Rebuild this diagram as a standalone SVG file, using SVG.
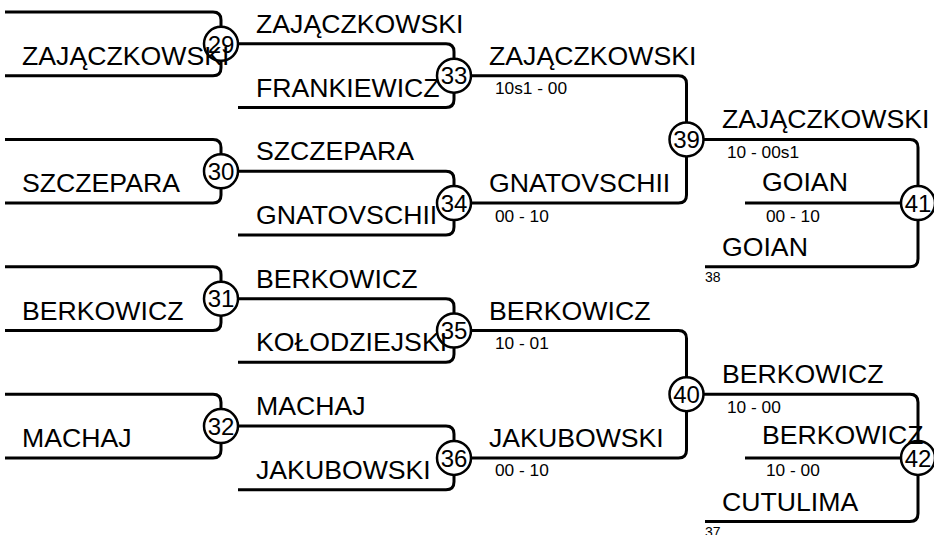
<svg xmlns="http://www.w3.org/2000/svg" width="934" height="535" viewBox="0 0 934 535">
<style>
.ln{fill:none;stroke:#000;stroke-width:3;stroke-linecap:butt}
.nd{fill:#fff;stroke:#000;stroke-width:2.5}
.num{font-family:"Liberation Sans",Arial,sans-serif;font-size:24px;text-anchor:middle;fill:#000}
.nm{font-family:"Liberation Sans",Arial,sans-serif;font-size:26.67px;fill:#000}
.sc{font-family:"Liberation Sans",Arial,sans-serif;font-size:17.3px;fill:#000}
.sm{font-family:"Liberation Sans",Arial,sans-serif;font-size:14px;fill:#000}
</style>
<rect width="934" height="535" fill="#fff"/>
<g id="connectors">
<path class="ln" d="M5,12 H213 Q221,12 221,20 V26.85"/>
<path class="ln" d="M5,75.7 H213 Q221,75.7 221,67.7 V60.85"/>
<path class="ln" d="M5,139.4 H213 Q221,139.4 221,147.4 V154.25"/>
<path class="ln" d="M5,203.1 H213 Q221,203.1 221,195.1 V188.25"/>
<path class="ln" d="M5,266.8 H213 Q221,266.8 221,274.8 V281.65"/>
<path class="ln" d="M5,330.5 H213 Q221,330.5 221,322.5 V315.65"/>
<path class="ln" d="M5,394.2 H213 Q221,394.2 221,402.2 V409.05"/>
<path class="ln" d="M5,457.9 H213 Q221,457.9 221,449.9 V443.05"/>
<path class="ln" d="M238,43.85 H446 Q454,43.85 454,51.85 V58.7"/>
<path class="ln" d="M238,107.55 H446 Q454,107.55 454,99.55 V92.7"/>
<path class="ln" d="M238,171.25 H446 Q454,171.25 454,179.25 V186.1"/>
<path class="ln" d="M238,234.95 H446 Q454,234.95 454,226.95 V220.1"/>
<path class="ln" d="M238,298.65 H446 Q454,298.65 454,306.65 V313.5"/>
<path class="ln" d="M238,362.35 H446 Q454,362.35 454,354.35 V347.5"/>
<path class="ln" d="M238,426.05 H446 Q454,426.05 454,434.05 V440.9"/>
<path class="ln" d="M238,489.75 H446 Q454,489.75 454,481.75 V474.9"/>
<path class="ln" d="M471,75.7 H678.5 Q686.5,75.7 686.5,83.7 V122.4"/>
<path class="ln" d="M471,203.1 H678.5 Q686.5,203.1 686.5,195.1 V156.4"/>
<path class="ln" d="M471,330.5 H678.5 Q686.5,330.5 686.5,338.5 V377.2"/>
<path class="ln" d="M471,457.9 H678.5 Q686.5,457.9 686.5,449.9 V411.2"/>
<path class="ln" d="M703.5,139.4 H910 Q918,139.4 918,147.4 V186.1"/>
<path class="ln" d="M705,266.8 H910 Q918,266.8 918,258.8 V220.1"/>
<path class="ln" d="M745,203.1 H901"/>
<path class="ln" d="M703.5,394.2 H910 Q918,394.2 918,402.2 V440.9"/>
<path class="ln" d="M705,521.6 H910 Q918,521.6 918,513.6 V474.9"/>
<path class="ln" d="M745,457.9 H901"/>
</g>
<g id="m29"><circle class="nd" cx="221" cy="43.85" r="17"/><text class="num" x="221" y="52.5">29</text></g>
<g id="m30"><circle class="nd" cx="221" cy="171.25" r="17"/><text class="num" x="221" y="179.9">30</text></g>
<g id="m31"><circle class="nd" cx="221" cy="298.65" r="17"/><text class="num" x="221" y="307.3">31</text></g>
<g id="m32"><circle class="nd" cx="221" cy="426.05" r="17"/><text class="num" x="221" y="434.7">32</text></g>
<g id="m33"><circle class="nd" cx="454" cy="75.7" r="17"/><text class="num" x="454" y="84.3">33</text></g>
<g id="m34"><circle class="nd" cx="454" cy="203.1" r="17"/><text class="num" x="454" y="211.7">34</text></g>
<g id="m35"><circle class="nd" cx="454" cy="330.5" r="17"/><text class="num" x="454" y="339.1">35</text></g>
<g id="m36"><circle class="nd" cx="454" cy="457.9" r="17"/><text class="num" x="454" y="466.5">36</text></g>
<g id="m39"><circle class="nd" cx="686.5" cy="139.4" r="17"/><text class="num" x="686.5" y="148">39</text></g>
<g id="m40"><circle class="nd" cx="686.5" cy="394.2" r="17"/><text class="num" x="686.5" y="402.8">40</text></g>
<g id="m41"><circle class="nd" cx="918" cy="203.1" r="17"/><text class="num" x="918" y="211.7">41</text></g>
<g id="m42"><circle class="nd" cx="918" cy="457.9" r="17"/><text class="num" x="918" y="466.5">42</text></g>
<g id="labels">
<text class="nm" x="22" y="64.7">ZAJĄCZKOWSKI</text>
<text class="nm" x="22" y="192.1">SZCZEPARA</text>
<text class="nm" x="22" y="319.5">BERKOWICZ</text>
<text class="nm" x="22" y="446.9">MACHAJ</text>
<text class="nm" x="256" y="32.85">ZAJĄCZKOWSKI</text>
<text class="nm" x="256" y="96.55">FRANKIEWICZ</text>
<text class="nm" x="256" y="160.25">SZCZEPARA</text>
<text class="nm" x="256" y="223.95">GNATOVSCHII</text>
<text class="nm" x="256" y="287.65">BERKOWICZ</text>
<text class="nm" x="256" y="351.35">KOŁODZIEJSKI</text>
<text class="nm" x="256" y="415.05">MACHAJ</text>
<text class="nm" x="256" y="478.75">JAKUBOWSKI</text>
<text class="nm" x="489" y="64.7">ZAJĄCZKOWSKI</text>
<text class="nm" x="489" y="192.1">GNATOVSCHII</text>
<text class="nm" x="489" y="319.5">BERKOWICZ</text>
<text class="nm" x="489" y="446.9">JAKUBOWSKI</text>
<text class="sc" x="495" y="94.2">10s1 - 00</text>
<text class="sc" x="495" y="221.6">00 - 10</text>
<text class="sc" x="495" y="349">10 - 01</text>
<text class="sc" x="495" y="476.4">00 - 10</text>
<text class="nm" x="722" y="128.4">ZAJĄCZKOWSKI</text>
<text class="sc" x="727" y="157.9">10 - 00s1</text>
<text class="nm" x="762" y="190.5">GOIAN</text>
<text class="sc" x="766" y="221.6">00 - 10</text>
<text class="nm" x="722" y="255.8">GOIAN</text>
<text class="sm" x="705" y="281.8">38</text>
<text class="nm" x="722" y="383.2">BERKOWICZ</text>
<text class="sc" x="727" y="412.7">10 - 00</text>
<text class="nm" x="762" y="444">BERKOWICZ</text>
<text class="sc" x="766" y="476.4">10 - 00</text>
<text class="nm" x="722" y="510.6">CUTULIMA</text>
<text class="sm" x="705" y="536.6">37</text>
</g>
</svg>
